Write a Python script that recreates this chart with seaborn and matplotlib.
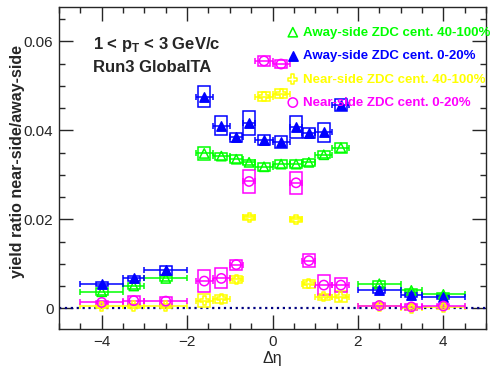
import numpy as np
import pandas as pd
import seaborn as sns
import matplotlib.pyplot as plt
from matplotlib.patches import Rectangle
from matplotlib.ticker import MultipleLocator, FormatStrFormatter

# delta eta bin centres and half widths
deta = [-4, -3.25, -2.5, -1.6, -1.2, -0.85, -0.55, -0.2, 0.2, 0.55, 0.85, 1.2, 1.6, 2.5, 3.25, 4]
deta_err = [0.5, 0.25, 0.5, 0.2, 0.2, 0.15, 0.15, 0.2, 0.2, 0.15, 0.15, 0.2, 0.2, 0.5, 0.25, 0.5]

away_40100 = [0.0037, 0.0050, 0.0067, 0.0348, 0.0342, 0.0335, 0.0328, 0.0318,
              0.0324, 0.0324, 0.0328, 0.0345, 0.0361, 0.0055, 0.0040, 0.0031]
away_020 = [0.0055, 0.0067, 0.0085, 0.0476, 0.0410, 0.0384, 0.0416, 0.0378,
            0.0373, 0.0407, 0.0394, 0.0396, 0.0456, 0.0040, 0.0030, 0.0025]
near_40100 = [0.0004, 0.0005, 0.0005, 0.0017, 0.0021, 0.0065, 0.0204, 0.0476,
              0.0482, 0.0200, 0.0055, 0.0026, 0.0026, 0.0005, 0.0000, 0.0002]
near_020 = [0.0013, 0.0017, 0.0016, 0.0061, 0.0067, 0.0098, 0.0285, 0.0556,
            0.0549, 0.0282, 0.0107, 0.0052, 0.0052, 0.0006, 0.0003, 0.0005]

# systematic box heights (full)
sys_away_40100 = [0.0015, 0.0015, 0.0013, 0.0028, 0.0016, 0.0019, 0.0011, 0.0018,
                  0.0019, 0.0017, 0.0017, 0.0015, 0.0022, 0.0013, 0.0008, 0.0008]
sys_away_020 = [0.0008, 0.0013, 0.0019, 0.0047, 0.0043, 0.0022, 0.0054, 0.0022,
                0.0027, 0.0049, 0.0024, 0.0043, 0.0027, 0.0010, 0.0010, 0.0009]
sys_near_40100 = [0.0008, 0.0008, 0.0008, 0.0028, 0.0019, 0.0015, 0.0010, 0.0019,
                  0.0020, 0.0012, 0.0019, 0.0013, 0.0026, 0.0008, 0.0008, 0.0008]
sys_near_020 = [0.0008, 0.0019, 0.0020, 0.0049, 0.0045, 0.0022, 0.0052, 0.0022,
                0.0019, 0.0049, 0.0028, 0.0045, 0.0031, 0.0012, 0.0012, 0.0008]

labels = ["Away-side ZDC cent. 40-100%", "Away-side ZDC cent. 0-20%",
          "Near-side ZDC cent. 40-100%", "Near-side ZDC cent. 0-20%"]
colors = ["#00ff00", "#0000ff", "#ffff00", "#ff00ff"]
markers = ["^", "^", "P", "o"]
filled = [False, True, False, False]
values = [away_40100, away_020, near_40100, near_020]
systs = [sys_away_40100, sys_away_020, sys_near_40100, sys_near_020]

sns.set_style("ticks")
plt.rcParams["font.family"] = ["Liberation Sans", "DejaVu Sans"]
plt.rcParams["mathtext.fontset"] = "custom"
plt.rcParams["mathtext.rm"] = "Liberation Sans:bold"

fig = plt.figure(figsize=(4.96, 3.74), dpi=100)
ax = fig.add_axes([0.119, 0.12, 0.861, 0.861])

box_half = 0.14
for lab, col, mk, fl, vals, sy in zip(labels, colors, markers, filled, values, systs):
    df = pd.DataFrame({"deta": deta, "ratio": vals})
    for xc, yc, h in zip(deta, vals, sy):
        ax.add_patch(Rectangle((xc - box_half, yc - h / 2), 2 * box_half, h,
                               fill=False, edgecolor=col, lw=1.1, zorder=2))
    ax.errorbar(deta, vals, xerr=deta_err, fmt="none", ecolor=col,
                elinewidth=1.1, capsize=2.5, capthick=1.1, zorder=3)
    sns.scatterplot(data=df, x="deta", y="ratio", ax=ax, marker=mk, s=45,
                    facecolor=col if fl else "none", edgecolor=col,
                    linewidth=1.1, label=lab, zorder=4)

ax.axhline(0, color="#000080", ls=":", lw=1.6, zorder=1)

ax.set_xlim(-5, 5)
ax.set_ylim(-0.0047, 0.0677)
ax.xaxis.set_major_locator(MultipleLocator(2))
ax.xaxis.set_minor_locator(MultipleLocator(0.5))
ax.yaxis.set_major_locator(MultipleLocator(0.02))
ax.yaxis.set_minor_locator(MultipleLocator(0.005))
ax.yaxis.set_major_formatter(FormatStrFormatter("%g"))
ax.tick_params(which="both", direction="in", top=True, right=True,
               labelsize=11, pad=4)
ax.tick_params(which="major", length=10, width=1)
ax.tick_params(which="minor", length=4.5, width=1)
for s in ax.spines.values():
    s.set_linewidth(1)

ax.set_xlabel("Δη", fontsize=11.5, labelpad=2)
ax.set_ylabel("yield ratio near-side/away-side", fontsize=11.5,
              fontweight="bold", labelpad=0)
ax.yaxis.set_label_coords(-0.08, 0.52)

ax.text(0.08, 0.885, r"1 < p$_{\rm T}$ < 3 GeV/c", transform=ax.transAxes,
        fontsize=12, fontweight="bold", va="center")
ax.text(0.08, 0.814, "Run3 GlobalTA", transform=ax.transAxes,
        fontsize=12, fontweight="bold", va="center")

leg = ax.legend(loc="upper left", bbox_to_anchor=(0.532, 0.94), frameon=False,
                fontsize=9.5, handlelength=1.0, handletextpad=0.3,
                labelspacing=0.85, borderaxespad=0, borderpad=0,
                labelcolor=colors)
for t in leg.get_texts():
    t.set_fontweight("bold")

fig.savefig("out.png", dpi=100)
